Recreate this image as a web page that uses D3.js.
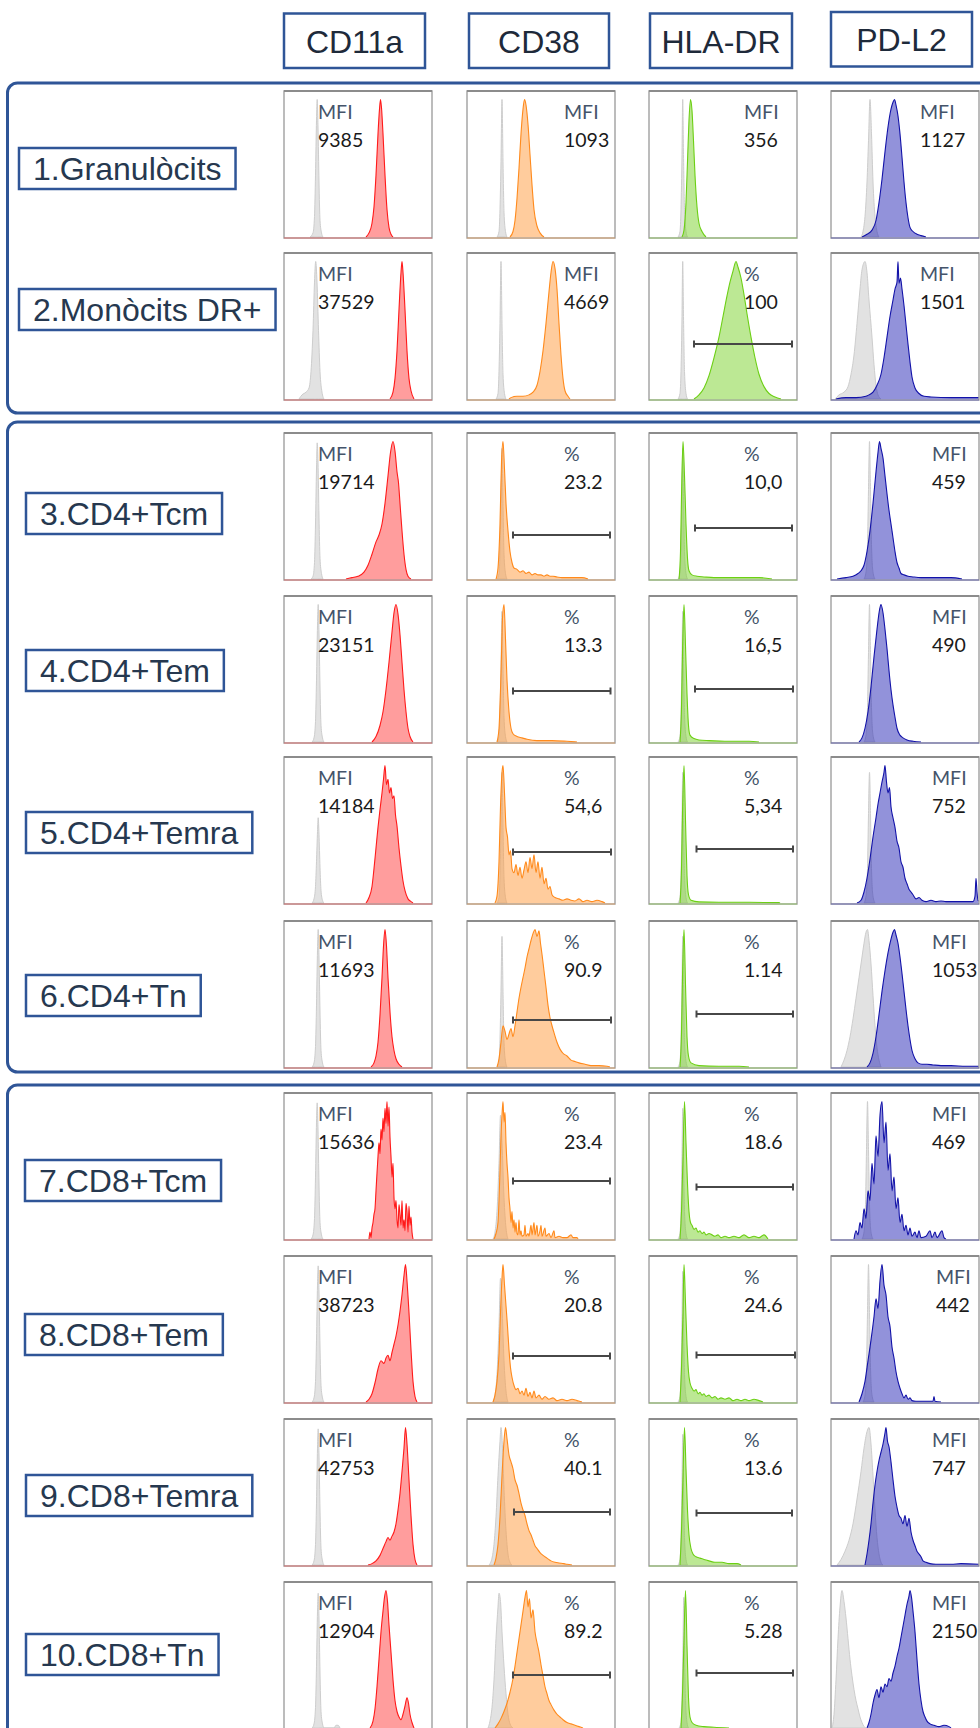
<!DOCTYPE html>
<html>
<head>
<meta charset="utf-8">
<script src="https://cdn.jsdelivr.net/npm/d3@7"></script>
<style>
  body { margin: 0; background: #fff; }
  svg { display: block; }
</style>
</head>
<body>
<svg id="fig"></svg>
<script>
// ---- data ----
const markers = ["CD11a", "CD38", "HLA-DR", "PD-L2"];
const populations = ["1.Granulòcits", "2.Monòcits DR+", "3.CD4+Tcm", "4.CD4+Tem", "5.CD4+Temra",
  "6.CD4+Tn", "7.CD8+Tcm", "8.CD8+Tem", "9.CD8+Temra", "10.CD8+Tn"];

const statNames = [
  ["MFI", "MFI", "MFI", "MFI"],
  ["MFI", "MFI", "%", "MFI"],
  ["MFI", "%", "%", "MFI"],
  ["MFI", "%", "%", "MFI"],
  ["MFI", "%", "%", "MFI"],
  ["MFI", "%", "%", "MFI"],
  ["MFI", "%", "%", "MFI"],
  ["MFI", "%", "%", "MFI"],
  ["MFI", "%", "%", "MFI"],
  ["MFI", "%", "%", "MFI"]
];
const statValues = [
  ["9385", "1093", "356", "1127"],
  ["37529", "4669", "100", "1501"],
  ["19714", "23.2", "10,0", "459"],
  ["23151", "13.3", "16,5", "490"],
  ["14184", "54,6", "5,34", "752"],
  ["11693", "90.9", "1.14", "1053"],
  ["15636", "23.4", "18.6", "469"],
  ["38723", "20.8", "24.6", "442"],
  ["42753", "40.1", "13.6", "747"],
  ["12904", "89.2", "5.28", "2150"]
];

// positive gates, channel units
const gates = [
  [null, null, null, null],
  [null, null, [45, 143], null],
  [null, [46, 143], [46, 143], null],
  [null, [46, 143.5], [46, 144], null],
  [null, [46, 144], [47.5, 144], null],
  [null, [46, 144], [47.5, 144], null],
  [null, [46, 143], [47.5, 144], null],
  [null, [46, 143], [47.5, 146], null],
  [null, [47, 143], [47.5, 143], null],
  [null, [46, 143], [47.5, 144], null]
];

// histograms: [channel, % of mode]
const cd11aCtrl = [
  [[26,0],[29,3],[30.5,15],[31.5,45],[32.5,85],[33.2,100],[34,80],[35,40],[36,12],[37.5,3],[39,0]],
  [[15,0],[18,3],[22,5],[25,8],[27,20],[29,50],[30.5,85],[31.7,100],[33,85],[34.5,50],[36,20],[38,5],[40,0]],
  [[27,0],[29,2],[30.5,12],[31.5,40],[32.5,80],[33.2,99],[34,85],[35,45],[36,15],[37.5,4],[39,0]],
  [[28,0],[30,3],[31.5,15],[32.5,45],[33.5,85],[34.2,100],[35,80],[36,40],[37,12],[38.5,3],[40,0]],
  [[28,0],[30,3],[31.5,12],[32.5,30],[33.5,52],[34.2,62],[35,50],[36,26],[37,9],[38.5,2],[40,0]],
  [[28,0],[30,3],[31.5,15],[32.5,45],[33.5,85],[34.2,100],[35,80],[36,40],[37,12],[38.5,3],[40,0]],
  [[27,0],[29,3],[30.5,15],[31.5,45],[32.5,85],[33.2,99],[34,80],[35,40],[36,12],[37.5,3],[39,0]],
  [[28,0],[30,3],[31.5,15],[32.5,45],[33.5,85],[34.2,99],[35,80],[36,40],[37,12],[38.5,3],[40,0]],
  [[28,0],[30,3],[31.5,15],[32.5,45],[33.5,85],[34.2,99],[35,80],[36,40],[37,12],[38.5,3],[40,0]],
  [[28,0],[30,3],[31.5,15],[32.5,45],[33.5,85],[34.2,98],[35,80],[36,40],[37,12],[38.5,3],[40,0],[50,0],[52,2],[54,2],[56,0]]
];
const cd11aHist = [
  [[82,0],[85,3],[88,10],[90,22],[92,45],[94,75],[95.5,93],[96.5,100],[97.5,94],[99,75],[101,45],[103,20],[105,7],[107,2],[109,0]],
  [[106,0],[109,5],[111,15],[113,35],[115,65],[117,92],[118,100],[119,92],[121,65],[123,35],[125,15],[127,6],[130,0]],
  [[62,0],[68,1],[74,2],[80,5],[84,10],[88,18],[92,27],[95,32],[98,40],[101,55],[104,75],[106.5,92],[109,100],[111,93],[113,78],[114.5,70],[116,55],[118,35],[120,18],[122,7],[124,2],[127,0]],
  [[88,0],[92,4],[96,12],[99,22],[102,38],[105,58],[108,80],[110,94],[112,100],[114,93],[116,78],[118,58],[120,38],[122,22],[124,10],[126,4],[129,0]],
  [[82,0],[85,4],[88,12],[90,25],[92,40],[94,55],[96,68],[98,80],[99.5,90],[101,100],[102.5,86],[104,90],[105.5,80],[107,84],[108.5,76],[110,78],[111.5,64],[113,56],[115,40],[117,27],[119,16],[121,9],[124,3],[127,1],[129,0]],
  [[87,0],[90,3],[92,8],[94,18],[96,38],[98,65],[99.5,88],[101,100],[102.5,88],[104,65],[106,40],[108,22],[110,12],[112,6],[115,2],[118,0]],
  [[85,0],[86,5],[87,1],[88,8],[89,12],[90,18],[91,22],[92,35],[93,48],[94,60],[95,70],[96,62],[97,80],[98,72],[99,88],[100,78],[101,95],[102,84],[103,100],[104,82],[105,96],[106,74],[107,60],[108,45],[109,55],[110,30],[111,22],[112,28],[113,14],[114,8],[115,25],[116,18],[117,10],[118,28],[119,8],[120,14],[121,6],[122,26],[123,20],[124,5],[125,24],[126,10],[127,16],[128,5],[129,0]],
  [[82,0],[85,2],[88,6],[91,14],[94,24],[97,30],[100,28],[102,32],[104,34],[106,30],[108,36],[110,42],[112,48],[114,56],[116,66],[118,78],[120,92],[121.5,100],[123,88],[125,65],[127,38],[129,15],[131,4],[133,0]],
  [[84,0],[88,1],[92,3],[96,7],[99,12],[102,17],[104,20],[106,18],[108,21],[110,24],[112,30],[114,40],[116,52],[118,68],[120,85],[121.5,100],[123,88],[125,62],[127,36],[129,15],[131,4],[133,0]],
  [[86,0],[89,5],[91,14],[93,30],[95,50],[97,70],[99,85],[100.5,95],[102,100],[103.5,92],[105,75],[107,55],[109,35],[111,20],[113,12],[115,8],[117,6],[119,10],[121,16],[123,22],[124.5,18],[126,10],[128,4],[130,0]]
];

const cd38Ctrl = [
  [[30,0],[32,4],[33,20],[34,55],[35,100],[36,55],[37,18],[38.5,4],[40,0]],
  [[29,0],[31,4],[32,20],[33,55],[34,100],[35,55],[36,18],[37.5,4],[39,0]],
  [[30,0],[32,4],[33,20],[34,55],[35,95],[36,55],[37,18],[38.5,4],[40,0]],
  [[30,0],[32,4],[33,20],[34,55],[35,95],[36,55],[37,18],[38.5,4],[40,0]],
  [[30,0],[32,4],[33,20],[34,55],[35,95],[36,55],[37,18],[38.5,4],[40,0]],
  [[30,0],[32,4],[33,20],[34,55],[35,95],[36,55],[37,18],[38.5,4],[40,0]],
  [[26,0],[28,5],[30,20],[32,55],[33.5,90],[35,70],[37,30],[39,8],[41,0]],
  [[26,0],[28,5],[30,20],[32,55],[33.5,90],[35,70],[37,30],[39,8],[41,0]],
  [[22,0],[25,5],[27,15],[29,35],[31,65],[33,90],[34,100],[35.5,85],[37,55],[39,25],[41,8],[43,2],[45,0]],
  [[21,0],[23,5],[25,15],[27,35],[29,65],[31,88],[32,98],[33.5,92],[35,70],[37,45],[39,25],[41,10],[43,3],[46,0]]
];
const cd38Hist = [
  [[43,0],[46,4],[48,12],[50,28],[52,50],[54,75],[56,93],[57.5,100],[59,96],[61,82],[63,60],[65,38],[67,20],[70,8],[73,3],[77,0]],
  [[42,0],[44,1],[50,2],[56,2],[62,3],[66,5],[70,10],[73,20],[76,35],[79,55],[82,78],[84,92],[86,100],[88,95],[90,80],[92,55],[94,32],[96,15],[98,6],[101,2],[103,0]],
  [[29,0],[31,8],[33,40],[34.5,85],[36,100],[37.5,80],[39,55],[41,35],[43,20],[45,12],[47,8],[50,7],[53,5],[56,6],[59,4],[62,5],[65,3],[68,4],[71,3],[74,3],[77,2],[80,3],[83,2],[86,2],[90,1.5],[95,1],[105,1],[115,1],[121,0]],
  [[30,0],[32,10],[34,50],[35.5,90],[37,100],[38.5,75],[40,45],[42,22],[44,10],[46,6],[50,4],[55,3],[60,2],[70,1],[85,1],[100,0.5],[110,0]],
  [[28,0],[30,5],[32,30],[33.5,70],[35,95],[36,100],[37.5,80],[39,55],[40.5,48],[42,35],[43.5,38],[45,25],[47,22],[49,28],[51,20],[53,26],[55,18],[57,24],[59,30],[61,22],[63,33],[65,25],[67,35],[69,22],[71,30],[73,18],[75,26],[77,14],[79,18],[81,10],[83,12],[85,6],[88,4],[92,3],[96,2],[100,3],[104,2],[108,1.5],[112,3],[116,1],[120,2],[125,1],[130,2],[135,1],[138,0]],
  [[30,0],[32,6],[34,18],[36,30],[38,26],[40,20],[42,24],[44,28],[46,22],[48,30],[50,40],[52,50],[54,58],[56,65],[58,72],[60,80],[62,86],[64,92],[66,97],[68,100],[70,95],[72,99],[73.5,90],[75,82],[77,70],[79,58],[81,45],[83,36],[85,30],[87,25],[90,18],[93,13],[96,10],[100,8],[104,5],[108,4],[112,3],[118,2],[124,1],[132,1],[140,0.5],[143,0]],
  [[27,0],[29,4],[31,12],[32,28],[33,50],[34,75],[35,90],[36,100],[37,85],[38,92],[39,70],[40,55],[41,45],[42,30],[43,22],[44,12],[45,20],[46,8],[47,14],[48,5],[49,12],[50,4],[51,3],[52,14],[53,3],[54,6],[55,2],[57,3],[58,10],[59,2],[61,4],[62,2],[64,10],[65,3],[67,12],[68,3],[70,10],[71,2],[73,6],[74,10],[75,2],[78,8],[79,2],[82,4],[84,1],[87,6],[88,1],[92,2],[96,1],[100,1],[104,3],[106,1],[110,1],[111,0]],
  [[26,0],[28,5],[30,15],[32,35],[33.5,65],[35,90],[36,100],[37.5,85],[39,70],[40.5,55],[42,38],[43.5,25],[45,18],[47,12],[49,9],[51,10],[53,6],[55,8],[57,5],[59,10],[61,4],[63,7],[65,3],[67,8],[69,3],[72,5],[75,2],[78,4],[82,2],[86,3],[90,1],[95,2],[100,1],[105,2],[110,1],[115,0]],
  [[27,0],[29,5],[31,15],[33,35],[35,65],[37,90],[38.5,100],[40,92],[42,80],[44,75],[46,70],[48,62],[50,58],[52,52],[54,45],[56,40],[58,36],[60,30],[62,25],[64,22],[66,18],[68,14],[70,12],[73,9],[76,7],[80,5],[84,3],[88,2],[92,1.5],[97,1],[100,0.5],[105,0]],
  [[28,0],[31,3],[34,7],[37,12],[40,18],[43,26],[46,36],[48,45],[50,55],[52,65],[54,75],[56,85],[58,95],[59.5,100],[61,88],[62.5,94],[64,80],[66,86],[68,70],[70,62],[72,55],[74,46],[76,38],[78,30],[80,25],[82,20],[84,17],[87,13],[90,10],[93,8],[96,6],[100,4],[104,3],[108,2],[112,1],[116,0]]
];

const hladrCtrl = [
  [[29,0],[31,4],[32,20],[33,60],[33.7,100],[34.5,60],[35.5,20],[37,4],[38.5,0]],
  [[29,0],[31,4],[32,20],[33,60],[33.7,100],[34.5,60],[35.5,20],[37,4],[38.5,0]],
  [[29,0],[31,4],[32,20],[33,60],[33.7,95],[34.5,60],[35.5,20],[37,4],[38.5,0]],
  [[29,0],[31,4],[32,20],[33,60],[33.7,95],[34.5,60],[35.5,20],[37,4],[38.5,0]],
  [[29,0],[31,4],[32,20],[33,60],[33.7,95],[34.5,60],[35.5,20],[37,4],[38.5,0]],
  [[29,0],[31,4],[32,20],[33,60],[33.7,95],[34.5,60],[35.5,20],[37,4],[38.5,0]],
  [[29,0],[31,4],[32,20],[33,60],[33.7,95],[34.5,60],[35.5,20],[37,4],[38.5,0]],
  [[29,0],[31,4],[32,20],[33,60],[33.7,95],[34.5,60],[35.5,20],[37,4],[38.5,0]],
  [[29,0],[31,4],[32,20],[33,60],[33.7,95],[34.5,60],[35.5,20],[37,4],[38.5,0]],
  [[30,0],[32,4],[33,20],[34,60],[34.7,95],[35.5,60],[36.5,20],[38,4],[39.5,0]]
];
const hladrHist = [
  [[33,0],[35,5],[37,25],[38.5,55],[40,85],[41.5,100],[43,92],[44.5,70],[46,45],[48,22],[50,10],[53,4],[57,0]],
  [[45,0],[50,3],[55,8],[60,17],[65,30],[70,45],[74,60],[78,75],[81,85],[84,93],[87,100],[89,96],[92,88],[95,76],[98,62],[102,45],[106,30],[110,18],[115,9],[120,4],[126,1.5],[132,0]],
  [[30,0],[31.5,20],[32.5,60],[34,100],[35.5,75],[37,40],[38.5,15],[40,6],[43,3],[48,2],[55,1.5],[65,1],[80,1],[95,1],[110,1],[123,0]],
  [[31,0],[32.5,25],[33.5,65],[35,100],[36.5,70],[38,35],[39.5,12],[41,5],[45,2.5],[50,1.5],[60,1],[80,0.5],[100,0.5],[110,0]],
  [[31,0],[32.5,25],[33.5,65],[35,100],[36.5,60],[38,20],[39.5,6],[42,2],[50,0.8],[70,0.5],[100,0.5],[130,0.3],[131,0]],
  [[31,0],[32.5,25],[33.5,65],[35,100],[36.5,60],[38,22],[39.5,8],[42,3],[50,1],[70,0.5],[90,0.5],[100,0]],
  [[31,0],[32.5,20],[34,60],[35.5,100],[37,70],[38.5,40],[40,20],[41.5,12],[43,10],[45,7],[47,8],[49,5],[51,6],[53,4],[55,5],[57,3],[60,4],[63,3],[66,2],[69,3],[72,1],[76,2],[80,1],[85,2],[90,1],[95,3],[100,1],[105,2],[110,1],[115,3],[119,0]],
  [[31,0],[32.5,25],[34,65],[35,100],[36.5,72],[38,42],[39.5,22],[41,14],[43,10],[45,8],[47,9],[49,6],[51,7],[53,5],[55,6],[57,4],[60,5],[63,3],[66,4],[69,2],[72,3],[76,2],[80,3],[84,1],[88,2],[92,1],[96,2],[100,1],[105,2],[110,1],[114,0]],
  [[31,0],[32.5,25],[34,65],[35.5,100],[37,70],[38.5,40],[40,22],[42,12],[44,8],[47,6],[51,5],[55,4],[60,3],[66,2],[73,2],[80,1],[88,1],[92,0]],
  [[32,0],[33.5,25],[35,65],[36.5,100],[38,60],[39.5,22],[41,8],[43,4],[47,2],[55,1],[65,0.5],[80,0]]
];

const pdl2Ctrl = [
  [[30,0],[32,4],[34,15],[36,40],[37.5,70],[39,100],[40.5,75],[42,40],[44,15],[46,4],[48,0]],
  [[4,0],[8,3],[13,5],[17,9],[20,18],[23,32],[26,55],[29,80],[31,94],[34,100],[36,92],[38,72],[41,45],[43,25],[45,10],[47,3],[50,0]],
  [[33,0],[35,5],[36.5,25],[37.5,65],[38.5,100],[39.5,65],[40.5,25],[42,5],[44,0]],
  [[33,0],[35,5],[36.5,25],[37.5,65],[38.5,100],[39.5,65],[40.5,25],[42,5],[44,0]],
  [[33,0],[35,5],[36.5,25],[37.5,65],[38.5,95],[39.5,65],[40.5,25],[42,5],[44,0]],
  [[10,0],[13,5],[16,12],[19,22],[22,35],[25,50],[28,65],[31,80],[33,90],[35,98],[36.5,100],[38,92],[40,75],[42,52],[44,30],[46,14],[48,5],[50,0]],
  [[31,0],[33,5],[34.5,25],[35.5,65],[36.5,100],[37.5,65],[38.5,25],[40,5],[42,0]],
  [[32,0],[34,5],[35.5,25],[36.5,65],[37.5,100],[38.5,65],[39.5,25],[41,5],[43,0]],
  [[6,0],[10,4],[14,10],[18,18],[22,30],[26,48],[30,68],[33,85],[36,97],[38,100],[40,88],[42,65],[44,40],[46,20],[48,8],[50,2],[52,0]],
  [[1,0],[3,10],[5,35],[7,65],[9,88],[11,100],[13,92],[15,80],[17,65],[19,50],[21,38],[23,28],[25,20],[27,14],[29,8],[31,4],[33,1],[35,0]]
];
const pdl2Hist = [
  [[31,0],[36,2],[41,5],[45,12],[48,25],[51,42],[54,62],[57,80],[60,93],[62,98],[63.5,100],[65,96],[67,88],[69,75],[71,58],[73,40],[75,25],[77,14],[79,7],[82,4],[86,2],[90,1],[95,0]],
  [[5,0],[15,1],[25,1],[35,2],[38,3],[42,5],[46,10],[50,18],[53,30],[56,45],[59,60],[62,72],[64,80],[66,85],[67,100],[68,84],[69.5,88],[71,80],[73,68],[75,54],[77,40],[79,27],[81,16],[84,8],[88,4],[93,2],[100,1.5],[120,1],[150,1]],
  [[6,0],[15,1],[22,2],[27,4],[30,6],[33,10],[36,20],[39,35],[42,55],[45,78],[47,92],[48.5,100],[50,95],[52,88],[54,75],[56,62],[58,50],[60,40],[62,30],[64,20],[66,12],[68,8],[70,4],[73,3],[77,2],[82,1.5],[90,1],[100,1],[110,1],[120,1],[131,0]],
  [[28,0],[31,3],[34,10],[37,22],[40,40],[43,62],[46,82],[48.5,96],[50,100],[52,94],[54,82],[56,68],[58,52],[60,38],[62,27],[64,18],[66,10],[69,5],[72,3],[76,1.5],[82,0.5],[90,0]],
  [[26,0],[30,2],[33,8],[36,18],[39,32],[42,48],[45,62],[47,72],[49,80],[51,88],[53,95],[54,100],[55.5,88],[57,80],[58.5,84],[60,70],[62,62],[64,55],[66,45],[68,40],[70,30],[72,26],[74,18],[76,14],[78,10],[80,8],[82,6],[85,3],[88,4],[91,2],[95,1],[100,2],[105,1],[110,1.5],[115,1],[125,1],[135,1],[142,1],[144,5],[145,18],[146,8],[147,2],[150,1]],
  [[36,0],[39,3],[42,10],[45,22],[48,38],[51,55],[54,70],[57,83],[60,93],[62,98],[63.5,100],[65,96],[67,90],[69,80],[71,68],[73,55],[75,42],[77,30],[79,20],[81,12],[84,6],[87,3],[91,2],[96,2],[102,1.5],[110,1],[120,1],[135,0.5],[150,0.5]],
  [[23,0],[25,6],[27,3],[29,12],[31,8],[33,22],[35,15],[37,35],[39,28],[41,55],[43,40],[45,75],[47,60],[49,90],[51,100],[53,70],[55,85],[57,50],[59,62],[61,35],[63,45],[65,22],[67,30],[69,12],[71,18],[73,6],[75,10],[77,3],[79,8],[81,2],[84,5],[86,1],[88,6],[90,1],[95,2],[99,6],[101,1],[104,5],[106,1],[111,6],[113,1],[115,0]],
  [[28,0],[31,6],[34,15],[37,30],[40,45],[43,62],[45,75],[47,68],[49,88],[51,100],[53,85],[55,78],[57,62],[59,55],[61,40],[63,32],[65,22],[67,15],[69,10],[71,6],[73,3],[75,5],[77,2],[79,3],[81,1],[85,0.5],[102,0.5],[103,4],[104,0.5],[110,0]],
  [[34,0],[36,8],[38,18],[40,30],[42,45],[44,58],[46,68],[48,76],[50,82],[52,88],[54,96],[55,100],[56.5,90],[58,86],[60,75],[62,62],[64,50],[66,42],[68,36],[70,34],[72,30],[74,36],[76,28],[78,34],[80,24],[82,18],[84,14],[86,10],[88,8],[90,6],[92,3],[95,2],[99,1],[105,0.5],[120,0.5],[130,1],[150,0.5]],
  [[36,0],[38,4],[40,10],[42,18],[44,24],[46,28],[48,22],[50,30],[52,26],[54,32],[56,30],[58,36],[60,34],[62,40],[64,45],[66,52],[68,58],[70,66],[72,74],[74,82],[76,90],[78,96],[79,100],[80.5,95],[82,85],[84,70],[86,50],[88,32],[90,20],[92,12],[94,8],[96,5],[99,3],[103,2],[108,1],[113,2],[118,1],[120,0]]
];

const ctrlByCol = [cd11aCtrl, cd38Ctrl, hladrCtrl, pdl2Ctrl];
const histByCol = [cd11aHist, cd38Hist, hladrHist, pdl2Hist];

// ---- layout ----
const W = 980, H = 1728;
const panelW = 148, panelH = 147;
const colX = [284, 467, 649, 831];
const rowY = [91, 253, 433, 596, 757, 921, 1093, 1256, 1419, 1582];
const headerBox = [[284, 13.5, 141], [469, 13.5, 140], [650, 13.5, 142], [831, 12, 141]];
const groupBox = [[83, 413], [422, 1072], [1085, 1760]];
const labelBox = [[19, 148], [19, 289], [26, 493], [26, 650], [26, 812], [26, 975],
  [25, 1160], [25, 1314], [26, 1475], [26, 1634]];
const statDx = [
  [34, 97, 95, 89], [34, 97, 95, 89], [34, 97, 95, 101], [34, 97, 95, 101], [34, 97, 95, 101],
  [34, 97, 95, 101], [34, 97, 95, 101], [34, 97, 95, 105], [34, 97, 95, 101], [34, 97, 95, 101]
];
const gateY = [
  [0, 0, 0, 0], [0, 0, 91, 0], [0, 102, 95, 0], [0, 95, 93, 0], [0, 95, 92, 0],
  [0, 99, 93, 0], [0, 88, 94, 0], [0, 100, 99, 0], [0, 93, 94, 0], [0, 93, 91, 0]
];
const colColors = [
  { fill: "#ff3b3b", line: "#ff1a1a" },
  { fill: "#ff9a3c", line: "#ff8a1c" },
  { fill: "#79d22a", line: "#6ccf14" },
  { fill: "#2525b5", line: "#1212a8" }
];
const frameBlue = "#2f5597";

const svg = d3.select("#fig").attr("width", W).attr("height", H)
  .style("font-family", "'Liberation Sans', Arial, sans-serif");

svg.append("rect").attr("width", W).attr("height", H).attr("fill", "#fff");

// group frames
svg.selectAll("rect.group")
  .data(groupBox)
  .enter()
  .append("rect")
  .attr("class", "group")
  .attr("x", 7.5)
  .attr("y", d => d[0])
  .attr("width", 1000)
  .attr("height", d => d[1] - d[0])
  .attr("rx", 10)
  .attr("fill", "none")
  .attr("stroke", frameBlue)
  .attr("stroke-width", 3);

// column headers
markers.forEach((m, i) => {
  const [bx, by, bw] = headerBox[i];
  svg.append("rect")
    .attr("x", bx).attr("y", by).attr("width", bw).attr("height", 54.5)
    .attr("fill", "none").attr("stroke", frameBlue).attr("stroke-width", 2.5);
  svg.append("text")
    .attr("x", bx + bw / 2).attr("y", by + 39)
    .attr("text-anchor", "middle")
    .attr("font-size", "32px")
    .attr("fill", "#1e2a3a")
    .text(m);
});

// row labels
populations.forEach((p, r) => {
  const [bx, by] = labelBox[r];
  const g = svg.append("g");
  const t = g.append("text")
    .attr("x", bx + 14).attr("y", by + 32)
    .attr("font-size", "32px")
    .attr("fill", "#26384f")
    .text(p);
  const tw = t.node().getComputedTextLength();
  g.insert("rect", "text")
    .attr("x", bx).attr("y", by).attr("width", tw + 28).attr("height", 41)
    .attr("fill", "#fff").attr("stroke", frameBlue).attr("stroke-width", 2.5);
});

// histogram scales
const x = d3.scaleLinear().domain([0, panelW]).range([0, panelW]);
const y = d3.scaleLinear().domain([0, 100]).range([panelH - 1, 8.5]);

const area = d3.area()
  .x(d => x(d[0]))
  .y0(y(0))
  .y1(d => y(d[1]))
  .curve(d3.curveMonotoneX);
const line = d3.line()
  .x(d => x(d[0]))
  .y(d => y(d[1]))
  .curve(d3.curveMonotoneX);

const defs = svg.append("defs");
defs.append("clipPath").attr("id", "panel-clip")
  .append("rect").attr("width", panelW).attr("height", panelH);

populations.forEach((p, r) => {
  markers.forEach((m, c) => {
    const g = svg.append("g")
      .attr("transform", `translate(${colX[c]},${rowY[r]})`);
    const col = colColors[c];

    g.append("rect")
      .attr("width", panelW).attr("height", panelH)
      .attr("fill", "#fff");

    const plot = g.append("g").attr("clip-path", "url(#panel-clip)");

    // control (unstained) histogram
    plot.append("path")
      .attr("d", area(ctrlByCol[c][r]))
      .attr("fill", "#e2e2e2")
      .attr("stroke", "#cdcdcd")
      .attr("stroke-width", 1);

    // sample histogram
    plot.append("path")
      .attr("d", area(histByCol[c][r]))
      .attr("fill", col.fill)
      .attr("fill-opacity", 0.5);
    plot.append("path")
      .attr("d", line(histByCol[c][r]))
      .attr("fill", "none")
      .attr("stroke", col.line)
      .attr("stroke-width", 1.1);

    // panel frame
    g.append("rect")
      .attr("width", panelW).attr("height", panelH)
      .attr("fill", "none")
      .attr("stroke", "#a6a6a6")
      .attr("stroke-width", 1.5);
    g.append("line")
      .attr("x1", 0).attr("x2", panelW).attr("y1", 0).attr("y2", 0)
      .attr("stroke", "#8c8c8c").attr("stroke-width", 2);
    g.append("line")
      .attr("x1", 0).attr("x2", panelW).attr("y1", panelH).attr("y2", panelH)
      .attr("stroke", col.line).attr("stroke-opacity", 0.3).attr("stroke-width", 1.5);

    // gate
    const gate = gates[r][c];
    if (gate) {
      const gy = gateY[r][c];
      const gg = g.append("g").attr("stroke", "#474747").attr("stroke-width", 2);
      gg.append("line").attr("x1", x(gate[0])).attr("x2", x(gate[1])).attr("y1", gy).attr("y2", gy);
      gg.append("line").attr("x1", x(gate[0])).attr("x2", x(gate[0])).attr("y1", gy - 3.5).attr("y2", gy + 3.5);
      gg.append("line").attr("x1", x(gate[1])).attr("x2", x(gate[1])).attr("y1", gy - 3.5).attr("y2", gy + 3.5);
    }

    // stat text
    const dx = statDx[r][c];
    g.append("text")
      .attr("x", dx).attr("y", 28)
      .attr("font-family", "Lato, 'Open Sans', sans-serif")
      .attr("font-size", "19.5px")
      .attr("fill", "#44546a")
      .text(statNames[r][c]);
    g.append("text")
      .attr("x", dx).attr("y", 56)
      .attr("font-family", "Lato, 'Open Sans', sans-serif")
      .attr("font-size", "19.5px")
      .attr("fill", "#1a1a1a")
      .text(statValues[r][c]);
  });
});
</script>
</body>
</html>
